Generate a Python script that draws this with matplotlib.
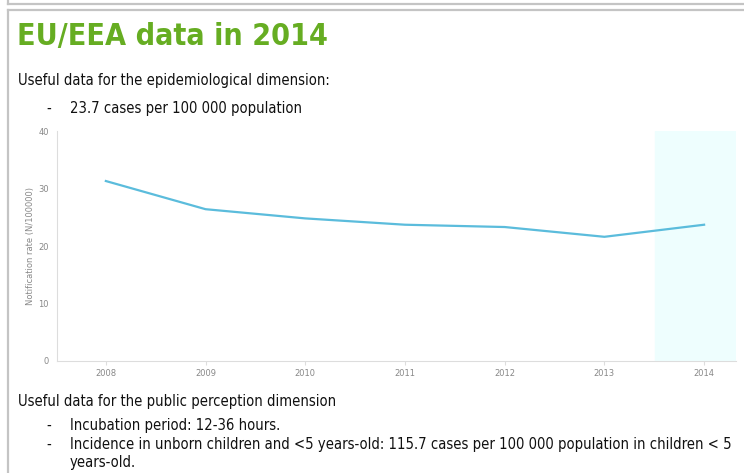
import matplotlib
matplotlib.use('Agg')
import matplotlib.pyplot as plt
from matplotlib.lines import Line2D

YEARS = [2008, 2009, 2010, 2011, 2012, 2013, 2014]
RATE = [31.3, 26.4, 24.8, 23.7, 23.3, 21.6, 23.7]
YTICKS = [0, 10, 20, 30, 40]

W, H = 744, 473
GREEN = "#66ad22"
TXT = "#111111"
BODY = ['DejaVu Sans']
FS = 10.6


def px(x, y):
    # pixel coords (from top-left) to figure fraction
    return x / W, 1 - y / H


def line(fig, x, y, s):
    fig.text(*px(x, y), s, color=TXT, fontsize=FS, family=BODY,
             fontstretch='condensed', va='center')


def main():
    fig = plt.figure(figsize=(W / 100, H / 100), dpi=100)

    # panel borders
    for xs, ys in [([8, 8], [0, 4]), ([8, W], [4, 4]), ([8, W], [10, 10]), ([8, 8], [10, H])]:
        fig.add_artist(Line2D([x / W for x in xs], [1 - y / H for y in ys],
                              color="#c4c4c4", lw=1.6, transform=fig.transFigure))

    fig.text(*px(17, 37), "EU/EEA data in 2014", color=GREEN, fontsize=21.8,
             fontweight='bold', family=BODY, fontstretch='condensed', va='center')
    line(fig, 18, 80, "Useful data for the epidemiological dimension:")
    line(fig, 46, 108, "-")
    line(fig, 70, 108, "23.7 cases per 100 000 population")

    line(fig, 18, 401, "Useful data for the public perception dimension")
    line(fig, 46, 425, "-")
    line(fig, 70, 425, "Incubation period: 12-36 hours.")
    line(fig, 46, 444, "-")
    line(fig, 70, 444, "Incidence in unborn children and <5 years-old: 115.7 cases per 100 000 population in children < 5")
    line(fig, 70, 462, "years-old.")

    left, right, top, bottom = 57, 736, 131, 361
    ax = fig.add_axes([left / W, 1 - bottom / H, (right - left) / W, (bottom - top) / H])
    ax.set_xlim(2007.51, 2014.32)
    ax.set_ylim(0, 40)
    ax.axvspan(2013.51, 2014.32, color="#eefefe", zorder=0)
    ax.plot(YEARS, RATE, color="#5bbcdc", lw=1.6)

    ax.set_xticks(YEARS)
    ax.set_yticks(YTICKS)
    for s in ['top', 'right']:
        ax.spines[s].set_visible(False)
    for s in ['left', 'bottom']:
        ax.spines[s].set_color("#dddddd")
    ax.tick_params(axis='x', colors="#dddddd", labelcolor="#888888", labelsize=6, length=3, pad=3)
    ax.tick_params(axis='y', length=0, labelcolor="#888888", labelsize=6, pad=6)
    ax.set_ylabel("Notification rate (N/100000)", fontsize=6, color="#888888", labelpad=2)

    fig.savefig("out.png", dpi=100)


if __name__ == "__main__":
    main()
